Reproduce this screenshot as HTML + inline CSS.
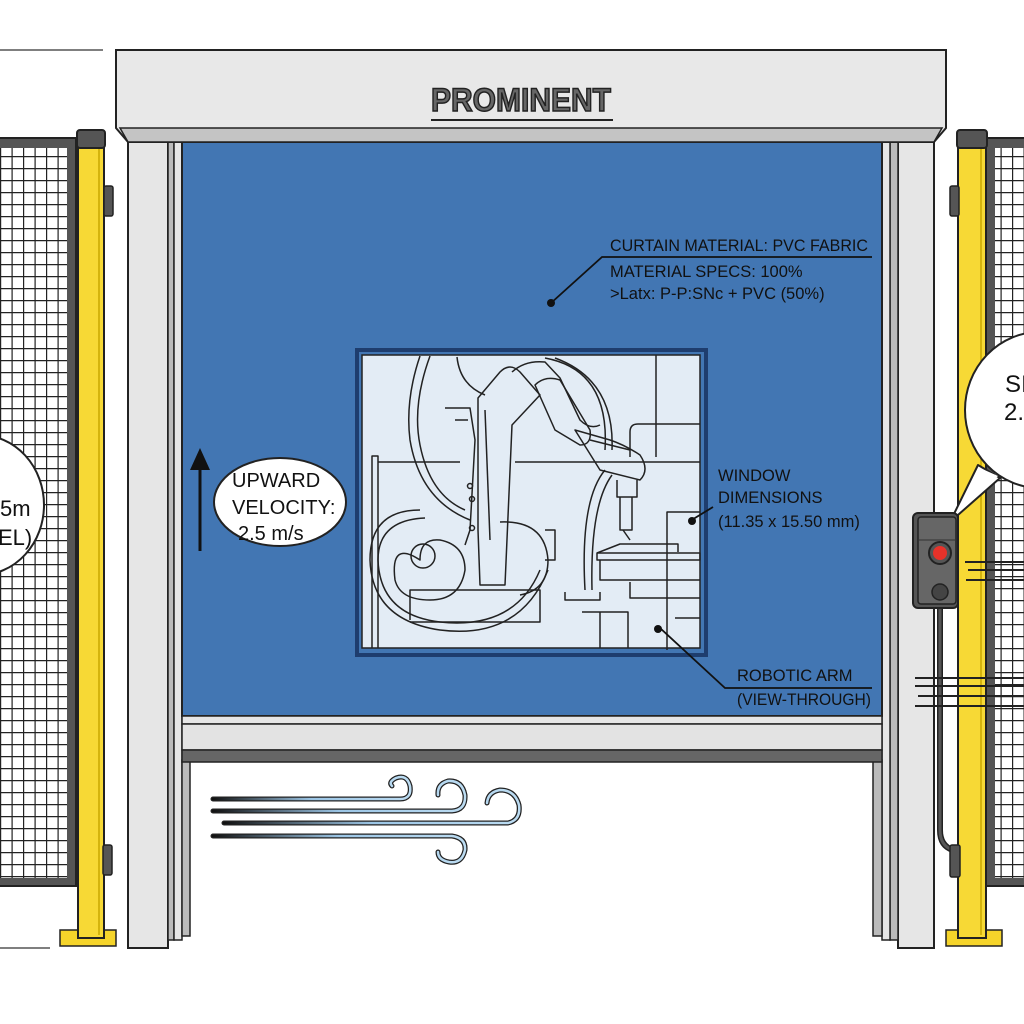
<!DOCTYPE html>
<html><head><meta charset="utf-8"><style>
html,body{margin:0;padding:0;background:#fff}
svg{display:block}
text{font-family:"Liberation Sans",sans-serif}
</style></head><body>
<svg width="1024" height="1024" viewBox="0 0 1024 1024" xmlns="http://www.w3.org/2000/svg">
<defs>
<pattern id="mesh" width="11.5" height="12" patternUnits="userSpaceOnUse">
<rect width="11.5" height="12" fill="#fff"/>
<path d="M0 0.5H11.5M0.5 0V12" stroke="#222" stroke-width="1.4"/>
</pattern>
<linearGradient id="wind" x1="0" x2="1"><stop offset="0" stop-color="#111"/><stop offset="0.5" stop-color="#9cc6e6"/><stop offset="1" stop-color="#bcdcf2"/></linearGradient>
</defs>
<rect width="1024" height="1024" fill="#fff"/>
<line x1="0" y1="50" x2="103" y2="50" stroke="#555" stroke-width="1.5"/>
<line x1="0" y1="948" x2="50" y2="948" stroke="#555" stroke-width="1.5"/>

<!-- left fence -->
<rect x="-5" y="138" width="81" height="748" fill="#555" stroke="#222" stroke-width="2"/>
<rect x="0" y="148" width="67" height="730" fill="url(#mesh)"/>
<rect x="60" y="930" width="56" height="16" fill="#f5d42a" stroke="#222" stroke-width="1.5"/>
<rect x="78" y="138" width="26" height="800" fill="#f7d935" stroke="#222" stroke-width="2"/>
<line x1="99" y1="148" x2="99" y2="935" stroke="#c9a800" stroke-width="1.5"/>
<rect x="77" y="130" width="28" height="18" rx="3" fill="#555" stroke="#222" stroke-width="2"/>
<rect x="104" y="186" width="9" height="30" rx="2" fill="#555" stroke="#222" stroke-width="1.5"/>
<rect x="103" y="845" width="9" height="30" rx="2" fill="#555" stroke="#222" stroke-width="1.5"/>
<ellipse cx="-20" cy="505" rx="64" ry="70" fill="#fff" stroke="#222" stroke-width="2"/>
<text x="0" y="516" font-size="22" fill="#111">5m</text>
<text x="-2" y="545" font-size="22" fill="#111">EL)</text>

<!-- right fence -->
<rect x="986" y="138" width="45" height="748" fill="#555" stroke="#222" stroke-width="2"/>
<rect x="995" y="148" width="31" height="730" fill="url(#mesh)"/>
<rect x="946" y="930" width="56" height="16" fill="#f5d42a" stroke="#222" stroke-width="1.5"/>
<rect x="958" y="138" width="28" height="800" fill="#f7d935" stroke="#222" stroke-width="2"/>
<line x1="981" y1="148" x2="981" y2="935" stroke="#c9a800" stroke-width="1.5"/>
<rect x="957" y="130" width="30" height="18" rx="3" fill="#555" stroke="#222" stroke-width="2"/>
<rect x="950" y="186" width="9" height="30" rx="2" fill="#555" stroke="#222" stroke-width="1.5"/>
<path d="M940 607 V830 Q940 846 953 850" fill="none" stroke="#222" stroke-width="6"/>
<path d="M940 607 V830 Q940 846 953 850" fill="none" stroke="#555" stroke-width="3"/>
<rect x="950" y="845" width="10" height="32" rx="2" fill="#555" stroke="#222" stroke-width="1.5"/>

<!-- door frame posts -->
<rect x="128" y="142" width="40" height="806" fill="#e6e6e6" stroke="#222" stroke-width="2"/>
<rect x="168" y="142" width="6" height="798" fill="#bbb" stroke="#222" stroke-width="1.5"/>
<rect x="174" y="142" width="8" height="798" fill="#e6e6e6" stroke="#222" stroke-width="1.5"/>
<rect x="898" y="142" width="36" height="806" fill="#e6e6e6" stroke="#222" stroke-width="2"/>
<rect x="890" y="142" width="8" height="798" fill="#bbb" stroke="#222" stroke-width="1.5"/>
<rect x="882" y="142" width="8" height="798" fill="#e6e6e6" stroke="#222" stroke-width="1.5"/>
<rect x="182" y="760" width="8" height="176" fill="#bbb" stroke="#222" stroke-width="1.5"/>
<rect x="873" y="760" width="9" height="176" fill="#bbb" stroke="#222" stroke-width="1.5"/>

<!-- bubble right -->
<path d="M978 465 L950 522 L1000 478 Z" fill="#fff" stroke="#222" stroke-width="2" stroke-linejoin="round"/>
<ellipse cx="1040" cy="410" rx="75" ry="78" fill="#fff" stroke="#222" stroke-width="2"/>
<path d="M980 468 L958 512 L998 476 Z" fill="#fff"/>
<text x="1005" y="392" font-size="24" fill="#111">SI</text>
<text x="1004" y="420" font-size="24" fill="#111">2.</text>

<!-- control box -->
<rect x="913" y="513" width="45" height="95" rx="5" fill="#555" stroke="#222" stroke-width="2"/>
<rect x="918" y="517" width="38" height="87" rx="3" fill="#666" stroke="#222" stroke-width="1.5"/>
<line x1="918" y1="540" x2="956" y2="540" stroke="#333" stroke-width="1"/>
<circle cx="940" cy="553" r="11" fill="#555" stroke="#222" stroke-width="2"/>
<circle cx="940" cy="553" r="7" fill="#e8322a"/>
<circle cx="940" cy="592" r="8" fill="#444" stroke="#222" stroke-width="1.5"/>
<g stroke="#222" stroke-width="2">
<line x1="965" y1="562" x2="1024" y2="562"/><line x1="968" y1="570" x2="1024" y2="570"/><line x1="966" y1="580" x2="1024" y2="580"/>
<line x1="915" y1="678" x2="1024" y2="678"/><line x1="915" y1="686" x2="1024" y2="686"/><line x1="918" y1="696" x2="1024" y2="696"/><line x1="915" y1="706" x2="1024" y2="706"/>
</g>

<!-- curtain -->
<rect x="182" y="142" width="700" height="574" fill="#4276b3" stroke="#222" stroke-width="2"/>
<rect x="182" y="716" width="700" height="8" fill="#e6e6e6" stroke="#222" stroke-width="1.5"/>
<rect x="182" y="724" width="700" height="26" fill="#e3e3e3" stroke="#222" stroke-width="1.5"/>
<rect x="182" y="750" width="700" height="12" fill="#666" stroke="#222" stroke-width="1.5"/>

<!-- header -->
<path d="M116 50 H946 V128 L934 142 H128 L116 128 Z" fill="#e8e8e8" stroke="#222" stroke-width="2"/>
<path d="M120 128 H942 L934 142 H128 Z" fill="#c4c4c4" stroke="#222" stroke-width="1.5"/>
<text x="431" y="111" font-size="32" font-weight="bold" fill="#666" stroke="#222" stroke-width="1.5" textLength="180" lengthAdjust="spacingAndGlyphs">PROMINENT</text>
<line x1="431" y1="120" x2="613" y2="120" stroke="#222" stroke-width="2"/>

<!-- window -->
<rect x="355" y="348" width="353" height="309" fill="#1e3d6e"/>
<rect x="359" y="352" width="345" height="301" fill="#4276b3"/>
<rect x="362" y="355" width="338" height="293" fill="#e3ecf5" stroke="#222" stroke-width="1.5"/>
<g fill="none" stroke="#222" stroke-width="1.5" stroke-linejoin="round">
<path d="M372 648 V456 H378 V648"/>
<path d="M378 462 H460"/>
<path d="M515 462 H700"/>
<path d="M656 355 V457"/>
<path d="M630 457 V432 Q630 424 638 424 H700"/>
<path d="M667 650 V512 H700"/>
<path d="M597 553 L620 544 H678 V552"/>
<path d="M597 553 H700 V560 H597 Z"/>
<path d="M600 560 V580 H700"/>
<path d="M630 582 V598 H700"/>
<path d="M565 592 V600 H600 V592"/>
<path d="M582 612 H628 V648"/>
<path d="M600 612 V648"/>
<path d="M675 618 H700"/>
<path d="M420 356 Q405 400 410 440 Q420 500 470 520"/>
<path d="M430 356 Q412 405 420 445 Q430 495 465 510"/>
<path d="M545 358 Q610 370 605 450"/>
<path d="M555 358 Q615 380 612 450"/>
<path d="M605 470 Q580 500 585 590"/>
<path d="M612 475 Q590 505 592 590"/>
<path d="M420 510 Q370 510 370 560 Q372 620 440 630 Q520 640 548 570"/>
<path d="M425 518 Q378 520 378 560 Q380 615 440 622 Q515 630 540 570"/>
<path d="M410 620 V590 H540 V622 H410"/>
<path d="M420 560 Q390 540 395 580 Q400 600 430 600 Q460 600 465 570 Q465 545 440 540 Q420 538 420 560 Z"/>
<circle cx="423" cy="556" r="12"/>
<path d="M500 522 Q545 520 548 560 Q548 590 520 595"/>
<path d="M545 530 H555 V560 H545"/>
<path d="M445 408 H470 L475 440 L470 530 L465 545"/>
<path d="M455 420 H468"/>
<path d="M478 398 L500 372 Q510 362 520 372 L540 395 L512 425 L505 585 H480 L478 530 Z"/>
<path d="M485 410 L490 540"/>
<circle cx="470" cy="486" r="2.5"/><circle cx="472" cy="499" r="2.5"/><circle cx="472" cy="528" r="2.5"/>
<path d="M512 372 Q525 360 545 362 L560 378 L580 420 Q590 430 600 425"/>
<path d="M535 385 Q545 375 560 380 L590 430 Q592 445 580 445 L555 430 Z"/>
<path d="M575 430 L610 440 Q625 445 640 455 Q650 470 640 480 L600 470 Z"/>
<path d="M590 440 L630 450"/>
<path d="M617 480 V497 H637 V480"/>
<path d="M620 497 V530 H632 V497"/>
<path d="M623 530 L630 540"/>
<path d="M457 357 Q460 385 485 395"/>
</g>

<!-- annotations -->
<g font-size="16.5" fill="#111">
<text x="610" y="251" textLength="258" lengthAdjust="spacingAndGlyphs">CURTAIN MATERIAL: PVC FABRIC</text>
<text x="610" y="277">MATERIAL SPECS: 100%</text>
<text x="610" y="299">&gt;Latx: P-P:SNc + PVC (50%)</text>
<text x="718" y="481">WINDOW</text>
<text x="718" y="503">DIMENSIONS</text>
<text x="718" y="527">(11.35 x 15.50 mm)</text>
<text x="737" y="681">ROBOTIC ARM</text>
<text x="737" y="705" textLength="134" lengthAdjust="spacingAndGlyphs">(VIEW-THROUGH)</text>
</g>
<g stroke="#111" stroke-width="1.8" fill="none">
<path d="M872 257 H602 L551 303"/>
<path d="M690 521 L713 507"/>
<path d="M660 628 L725 688 H872"/>
</g>
<circle cx="551" cy="303" r="4" fill="#111"/>
<circle cx="692" cy="521" r="4" fill="#111"/>
<circle cx="658" cy="629" r="4" fill="#111"/>

<line x1="200" y1="466" x2="200" y2="551" stroke="#111" stroke-width="3"/>
<path d="M200 448 L210 470 H190 Z" fill="#111"/>
<ellipse cx="280" cy="502" rx="66" ry="44" fill="#fff" stroke="#222" stroke-width="2"/>
<g font-size="20" fill="#111">
<text x="232" y="487">UPWARD</text>
<text x="232" y="514">VELOCITY:</text>
<text x="238" y="540">2.5 m/s</text>
</g>

<g fill="none" stroke-linecap="round">
<g stroke="#222" stroke-width="5">
<path d="M213 799 H400 Q412 799 410 786 Q407 774 396 778 Q388 782 392 786"/>
<path d="M213 811 H452 Q466 810 465 795 Q462 780 448 781 Q437 784 438 795"/>
<path d="M224 823 H508 Q521 820 519 805 Q515 790 500 790 Q488 792 487 803"/>
<path d="M213 836 H452 Q466 838 465 850 Q462 864 449 862 Q438 860 438 852"/>
</g>
<g stroke="url(#wind)" stroke-width="2.5">
<path d="M213 799 H400 Q412 799 410 786 Q407 774 396 778 Q388 782 392 786"/>
<path d="M213 811 H452 Q466 810 465 795 Q462 780 448 781 Q437 784 438 795"/>
<path d="M224 823 H508 Q521 820 519 805 Q515 790 500 790 Q488 792 487 803"/>
<path d="M213 836 H452 Q466 838 465 850 Q462 864 449 862 Q438 860 438 852"/>
</g>
</g>
</svg>
</body></html>
